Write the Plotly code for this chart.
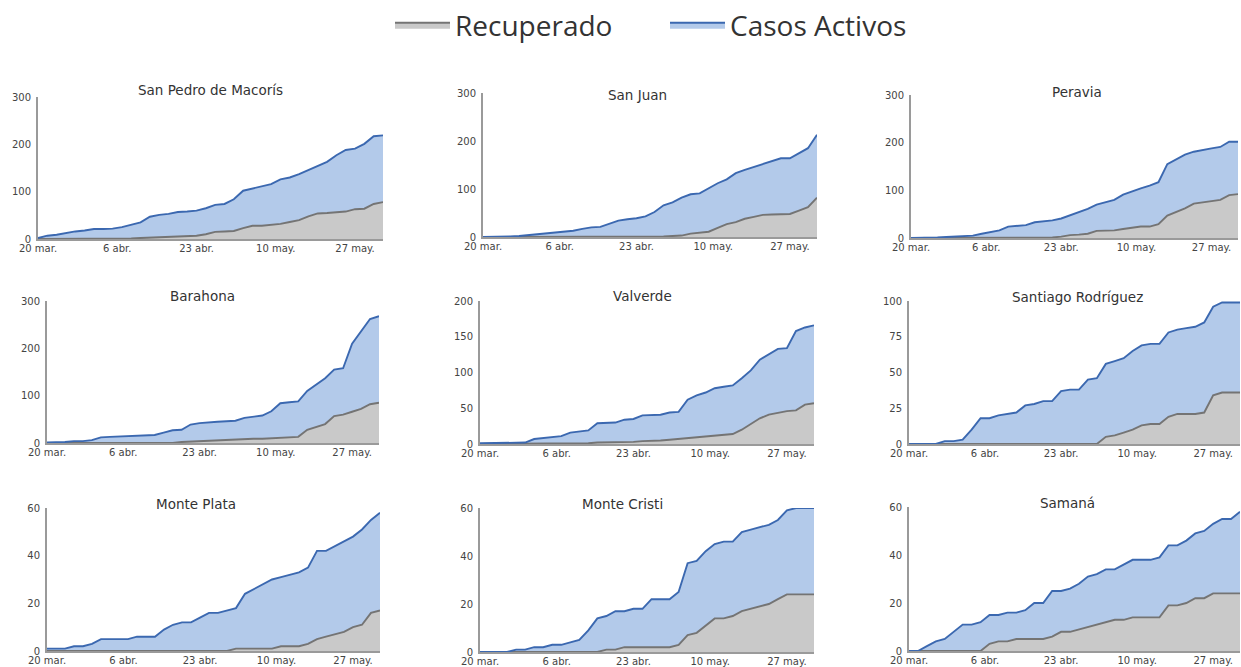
import pandas as pd
import plotly.graph_objects as go

# Dates: every two days from 20 mar. to 2 jun. 2020
dates = pd.date_range("2020-03-20", "2020-06-02", freq="2D")

provinces = ["San Pedro de Macorís", "San Juan", "Peravia",
             "Barahona", "Valverde", "Santiago Rodríguez",
             "Monte Plata", "Monte Cristi", "Samaná"]

# Total cases (top of the blue area)
total_spm = [2, 7, 9, 13, 16, 18, 21, 21, 22, 25, 30, 35, 47, 51, 53, 57, 58, 60, 65, 72,
             74, 84, 102, 107, 111, 116, 126, 130, 137, 146, 154, 163, 177, 188, 191, 201, 217, 219]
total_sj = [0, 0, 0, 1, 2, 4, 5, 7, 9, 11, 13, 17, 20, 21, 28, 34, 37, 39, 43, 52,
            66, 72, 82, 89, 91, 102, 112, 120, 133, 140, 146, 151, 158, 164, 164, 174, 185, 213]
total_per = [0, 0, 0, 1, 2, 3, 4, 5, 9, 13, 16, 24, 26, 27, 33, 35, 37, 41, 48, 55,
             61, 70, 75, 80, 91, 98, 104, 110, 117, 155, 165, 175, 181, 185, 188, 191, 202, 202]
total_bar = [1, 1, 2, 4, 4, 6, 12, 13, 14, 14, 16, 17, 17, 22, 27, 28, 39, 42, 44, 45,
             46, 47, 53, 56, 58, 67, 84, 86, 88, 110, 123, 137, 155, 158, 210, 235, 262, 268]
total_val = [1, 1, 1, 2, 2, 2, 7, 8, 10, 11, 16, 17, 19, 29, 30, 30, 34, 35, 40, 41,
             41, 44, 45, 62, 68, 72, 78, 80, 82, 92, 103, 118, 126, 133, 134, 158, 163, 166]
total_sro = [0, 0, 0, 0, 2, 2, 3, 10, 18, 18, 20, 21, 22, 27, 28, 30, 30, 37, 38, 38,
             45, 46, 56, 58, 60, 65, 69, 70, 70, 78, 80, 81, 82, 85, 96, 99, 99, 99]
total_mpl = [1, 1, 1, 2, 2, 3, 5, 5, 5, 5, 6, 6, 6, 9, 11, 12, 12, 14, 16, 16,
             17, 18, 24, 26, 28, 30, 31, 32, 33, 35, 42, 42, 44, 46, 48, 51, 55, 58]
total_mcr = [0, 0, 0, 0, 1, 1, 2, 2, 3, 3, 4, 5, 9, 14, 15, 17, 17, 18, 18, 22,
             22, 22, 25, 37, 38, 42, 45, 46, 46, 50, 51, 52, 53, 55, 59, 60, 60, 60]
total_sam = [0, 0, 2, 4, 5, 8, 11, 11, 12, 15, 15, 16, 16, 17, 20, 20, 25, 25, 26, 28,
             31, 32, 34, 34, 36, 38, 38, 38, 39, 44, 44, 46, 49, 50, 53, 55, 55, 58]

# Recovered (top of the grey area)
rec_spm = [0] * 9 + [1, 1, 2, 3, 3, 4, 6, 7, 7, 10, 15, 16, 17, 23, 28, 28, 30, 32, 36, 40,
                     48, 54, 55, 57, 58, 63, 64, 74, 78]
rec_sj = [0] * 20 + [1, 2, 3, 7, 9, 11, 19, 27, 31, 38, 42, 46, 47, 48, 48, 55, 62, 82]
rec_per = [0] * 16 + [1, 3, 6, 7, 9, 15, 16, 16, 19, 22, 24, 24, 29, 47, 55, 62, 72, 75,
                      77, 80, 90, 92]
rec_bar = [0] * 15 + [2, 3, 4, 5, 6, 7, 7, 8, 9, 9, 10, 11, 12, 13, 28, 34, 40, 57, 60,
                      66, 72, 82, 85]
rec_val = [0] * 10 + [1, 1, 1, 2, 2, 2, 3, 3, 4, 4, 5, 6, 7, 8, 9, 11, 12, 13, 14, 20,
                      28, 36, 41, 44, 46, 47, 55, 57]
rec_sro = [0] * 22 + [5, 6, 8, 10, 13, 14, 14, 19, 21, 21, 21, 22, 34, 36, 36, 36]
rec_mpl = [0] * 21 + [1, 1, 1, 1, 1, 2, 2, 2, 3, 5, 6, 7, 8, 10, 11, 16, 17]
rec_mcr = [0] * 14 + [1, 1, 2, 2, 2, 2, 2, 2, 3, 7, 8, 11, 14, 14, 15, 17, 18, 19, 20,
                      22, 24, 24, 24, 24]
rec_sam = [0] * 9 + [3, 4, 4, 5, 5, 5, 5, 6, 8, 8, 9, 10, 11, 12, 13, 13, 14, 14, 14, 14,
                     19, 19, 20, 22, 22, 24, 24, 24, 24]

totals = [total_spm, total_sj, total_per, total_bar, total_val, total_sro,
          total_mpl, total_mcr, total_sam]
recovered = [rec_spm, rec_sj, rec_per, rec_bar, rec_val, rec_sro,
             rec_mpl, rec_mcr, rec_sam]

y_max = [300, 300, 300, 300, 200, 100, 60, 60, 60]
y_dtick = [100, 100, 100, 100, 50, 25, 20, 20, 20]

tick_dates = ["2020-03-20", "2020-04-06", "2020-04-23", "2020-05-10", "2020-05-27"]
tick_text = ["20 mar.", "6 abr.", "23 abr.", "10 may.", "27 may."]

W, H = 1241, 667
# plot areas in pixels: (left, right, top, bottom)
boxes = [(38, 383, 97, 239), (483, 817, 93, 237), (911, 1238, 95, 238),
         (47, 379, 301, 443), (480, 814, 301, 444), (909, 1240, 301, 444),
         (47, 380, 508, 651), (480, 814, 508, 652), (909, 1240, 507, 651)]
title_pos = [(210, 90), (638, 95), (1077, 92), (202, 296), (642, 296), (1077, 297),
             (196, 504), (622, 504), (1067, 503)]

GREY_FILL, GREY_LINE = "#c9c9c9", "#747474"
BLUE_FILL, BLUE_LINE = "#b3caea", "#3b68b0"
TXT_FONT = "DejaVu Sans, Verdana, sans-serif"

fig = go.Figure()
layout = dict(width=W, height=H, margin=dict(l=0, r=0, t=0, b=0),
              paper_bgcolor="white", plot_bgcolor="white",
              font=dict(family=TXT_FONT, color="#444"))
annotations = []

for i, name in enumerate(provinces):
    n = i + 1
    xa = "x" if n == 1 else f"x{n}"
    ya = "y" if n == 1 else f"y{n}"
    active = [t - r for t, r in zip(totals[i], recovered[i])]
    fig.add_trace(go.Scatter(
        x=dates, y=recovered[i], name="Recuperado", mode="lines",
        stackgroup=f"g{n}", fillcolor=GREY_FILL,
        line=dict(color=GREY_LINE, width=1.9),
        xaxis=xa, yaxis=ya, legendgroup="rec", showlegend=(n == 1)))
    fig.add_trace(go.Scatter(
        x=dates, y=active, name="Casos Activos", mode="lines",
        stackgroup=f"g{n}", fillcolor=BLUE_FILL,
        line=dict(color=BLUE_LINE, width=1.9),
        xaxis=xa, yaxis=ya, legendgroup="act", showlegend=(n == 1)))

    l, r, t, b = boxes[i]
    xkey = "xaxis" if n == 1 else f"xaxis{n}"
    ykey = "yaxis" if n == 1 else f"yaxis{n}"
    layout[xkey] = dict(
        domain=[l / W, r / W], anchor=ya, automargin=False,
        range=[dates[0], dates[-1]], tickmode="array",
        tickvals=tick_dates, ticktext=tick_text,
        showgrid=False, zeroline=False, showline=True,
        linecolor="#9a9a9a", linewidth=2, ticks="", ticklabelstandoff=-1,
        tickfont=dict(size=10, color="#444"))
    layout[ykey] = dict(
        domain=[1 - b / H, 1 - t / H], anchor=xa, automargin=False,
        range=[0, y_max[i]], dtick=y_dtick[i], tick0=0,
        showgrid=False, zeroline=False, showline=True,
        linecolor="#9a9a9a", linewidth=2, ticks="", ticklabelstandoff=3,
        tickfont=dict(size=10, color="#444"))
    tx, ty = title_pos[i]
    annotations.append(dict(
        text=name, x=tx / W, y=1 - ty / H, xref="paper", yref="paper",
        xanchor="center", yanchor="middle", showarrow=False,
        font=dict(size=13.5, color="#333")))

layout["annotations"] = annotations
layout["legend"] = dict(
    orientation="h", x=390 / W, xanchor="left", y=1, yanchor="top",
    font=dict(size=28, color="#333", family="Open Sans, sans-serif"),
    itemwidth=55, entrywidth=205, entrywidthmode="pixels",
    bgcolor="rgba(255,255,255,0)")
layout["showlegend"] = True
fig.update_layout(**layout)

fig.write_html(
    "out.html",
    config={"displayModeBar": False},
    post_script="document.body.style.margin='0';document.body.style.overflow='hidden';")
